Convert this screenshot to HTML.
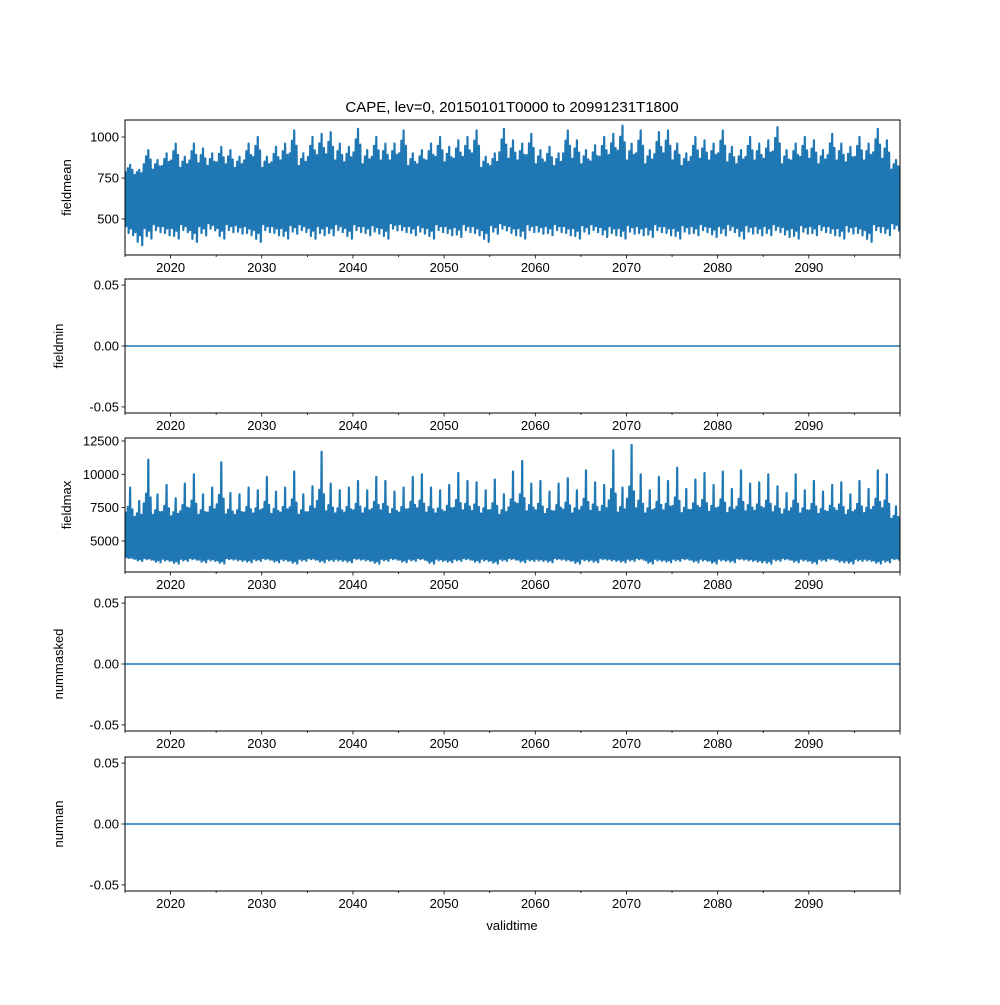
<!DOCTYPE html>
<html><head><meta charset="utf-8"><style>
html,body{margin:0;padding:0;background:#fff}
svg text{font-family:"Liberation Sans","DejaVu Sans",sans-serif;fill:#000}
</style></head><body>
<svg id="fig" width="1000" height="1000" xmlns="http://www.w3.org/2000/svg">
<text x="512" y="112" font-size="15" text-anchor="middle">CAPE, lev=0, 20150101T0000 to 20991231T1800</text>
<text x="512" y="930" font-size="13" text-anchor="middle">validtime</text>
</svg>
<script>
const years=[];for(let y=2015;y<=2099;y++)years.push(y);
const meanPeaks=[830,800,920,860,900,960,880,960,930,900,940,920,880,960,1000,880,940,960,1040,900,1000,1020,1030,960,940,1050,920,1000,960,960,1040,900,920,960,1000,940,980,1000,1040,880,900,1050,980,960,1020,920,940,900,1040,980,920,950,1000,1020,1070,960,1040,920,1030,1040,960,900,1000,980,960,1040,940,920,1000,960,980,1060,920,960,1000,980,920,1020,960,940,1000,960,1050,980,860];
const meanLows=[400,340,380,420,400,380,420,360,400,430,380,420,410,400,360,420,400,380,410,420,380,400,400,420,380,420,400,410,380,430,420,400,410,380,420,400,390,420,400,360,410,430,400,380,420,410,400,420,400,380,410,420,390,400,380,410,400,390,420,400,380,410,400,420,390,400,420,380,410,400,400,420,390,380,410,400,420,400,380,410,400,360,420,400,430];
const maxPeaks=[9000,8000,11100,8500,9200,8200,9300,10000,8500,9000,10900,8600,8500,9000,8800,9800,8700,9000,10200,8500,9100,11700,9300,8800,9000,9500,8800,9800,9500,8700,9000,9800,10000,9000,8800,9200,10100,9500,9400,8800,9600,8500,10200,11000,9300,9500,8700,9300,9700,8800,10300,9400,9200,11800,9000,12200,10000,8800,9800,9500,10500,8900,9600,10100,9200,10200,8900,10300,9300,9400,10000,9100,8600,10000,8800,9500,8700,9200,9400,8500,9500,8900,10300,10000,7600];
const maxLows=[3700,3500,3600,3400,3500,3300,3500,3600,3400,3500,3300,3600,3500,3400,3500,3600,3400,3500,3300,3500,3600,3400,3500,3500,3400,3600,3500,3300,3500,3600,3400,3500,3600,3300,3500,3400,3500,3600,3400,3500,3300,3500,3600,3400,3500,3500,3400,3600,3500,3300,3500,3400,3600,3500,3400,3500,3600,3300,3500,3400,3500,3600,3400,3500,3300,3500,3400,3600,3500,3400,3300,3500,3600,3400,3500,3300,3500,3600,3400,3300,3500,3500,3300,3400,3600];
const xTicks=[2020,2030,2040,2050,2060,2070,2080,2090];
const meanTicks=[500,750,1000];
const maxTicks=[5000,7500,10000,12500];
const zeroTicks=[-0.05,0,0.05];
const panels=[
 {name:'fieldmean',top:120,bot:255,ymin:280,ymax:1104,ticks:meanTicks,fmt:v=>String(v),kind:'mean'},
 {name:'fieldmin',top:279,bot:413,ymin:-0.055,ymax:0.055,ticks:zeroTicks,fmt:v=>v.toFixed(2),kind:'zero'},
 {name:'fieldmax',top:438,bot:572,ymin:2670,ymax:12725,ticks:maxTicks,fmt:v=>String(v),kind:'max'},
 {name:'nummasked',top:597,bot:731,ymin:-0.055,ymax:0.055,ticks:zeroTicks,fmt:v=>v.toFixed(2),kind:'zero'},
 {name:'numnan',top:757,bot:891,ymin:-0.055,ymax:0.055,ticks:zeroTicks,fmt:v=>v.toFixed(2),kind:'zero'}];
const L=125,R=900,NS='http://www.w3.org/2000/svg';
const svg=document.getElementById('fig');
const xs=t=>L+(t-2015)/(2100-2015)*(R-L);
function mk(tag,attrs,parent){const e=document.createElementNS(NS,tag);for(const k in attrs)e.setAttribute(k,attrs[k]);(parent||svg).appendChild(e);return e;}
const up=[0.55,0.8,1.0,0.7];const dn=[0.6,0.9,0.7,1.0];
panels.forEach(p=>{
 const g=mk('g',{});
 
 
 const ys=v=>p.bot-(v-p.ymin)/(p.ymax-p.ymin)*(p.bot-p.top);
 const cp=mk('clipPath',{id:'c'+p.name},g);mk('rect',{x:L,y:p.top,width:R-L,height:p.bot-p.top},cp);
 if(p.kind==='zero'){
  const l=mk('line',{x1:L,x2:R,y1:ys(0),y2:ys(0),stroke:'#1f77b4','stroke-width':1.5},g);
  
  
 }else{
  const peaks=p.kind==='mean'?meanPeaks:maxPeaks,lows=p.kind==='mean'?meanLows:maxLows;
  const cHi=p.kind==='mean'?730:6200,cLo=p.kind==='mean'?540:3900;
  let d='';
  years.forEach((y,i)=>{
   for(let k=0;k<4;k++){
    const t0=y+k/4;
    const hi=cHi+(peaks[i]-cHi)*up[k]*(p.kind==='max'&&k!==2?0.6:1);
    const lo=cLo-(cLo-lows[i])*dn[k];
    const pts=[[t0,cHi],[t0+0.06,hi],[t0+0.1,cHi*0.97],[t0+0.14,lo],[t0+0.2,cLo*1.03],[t0+0.25,cHi]];
    pts.forEach(([t,v],j)=>{d+=(d===''?'M':'L')+xs(t).toFixed(1)+','+ys(v).toFixed(1);});
   }
  });
  const path=mk('path',{d:d,fill:'none',stroke:'#1f77b4','stroke-width':2.2,'stroke-linejoin':'round','clip-path':'url(#c'+p.name+')'},g);
  
  
  const band=mk('rect',{x:L,y:ys(cHi),width:R-L,height:ys(cLo)-ys(cHi),fill:'#1f77b4'},g);
  
  
 }
 mk('rect',{x:L,y:p.top,width:R-L,height:p.bot-p.top,fill:'none',stroke:'#000','stroke-width':1},g);
 for(let y=2015;y<=2100;y+=5){const x=xs(y);mk('line',{x1:x,x2:x,y1:p.bot,y2:p.bot+(y%10===0?3.5:2),stroke:'#000','stroke-width':0.8},g);}
 xTicks.forEach(y=>{const t=mk('text',{x:xs(y),y:p.bot+17,'font-size':13,'text-anchor':'middle'},g);t.textContent=y;
  
  });
 p.ticks.forEach(v=>{const y=ys(v);mk('line',{x1:L-3.5,x2:L,y1:y,y2:y,stroke:'#000','stroke-width':0.8},g);
  const t=mk('text',{x:L-6,y:y+4.5,'font-size':13,'text-anchor':'end'},g);t.textContent=p.fmt(v);
  
  });
 const lx=p.kind==='zero'?63:71;const cy=(p.top+p.bot)/2;
 const yl=mk('text',{x:lx,y:cy,'font-size':13,'text-anchor':'middle',transform:'rotate(-90 '+lx+' '+cy+')'},g);yl.textContent=p.name;
 
 
});
</script>
</body></html>
